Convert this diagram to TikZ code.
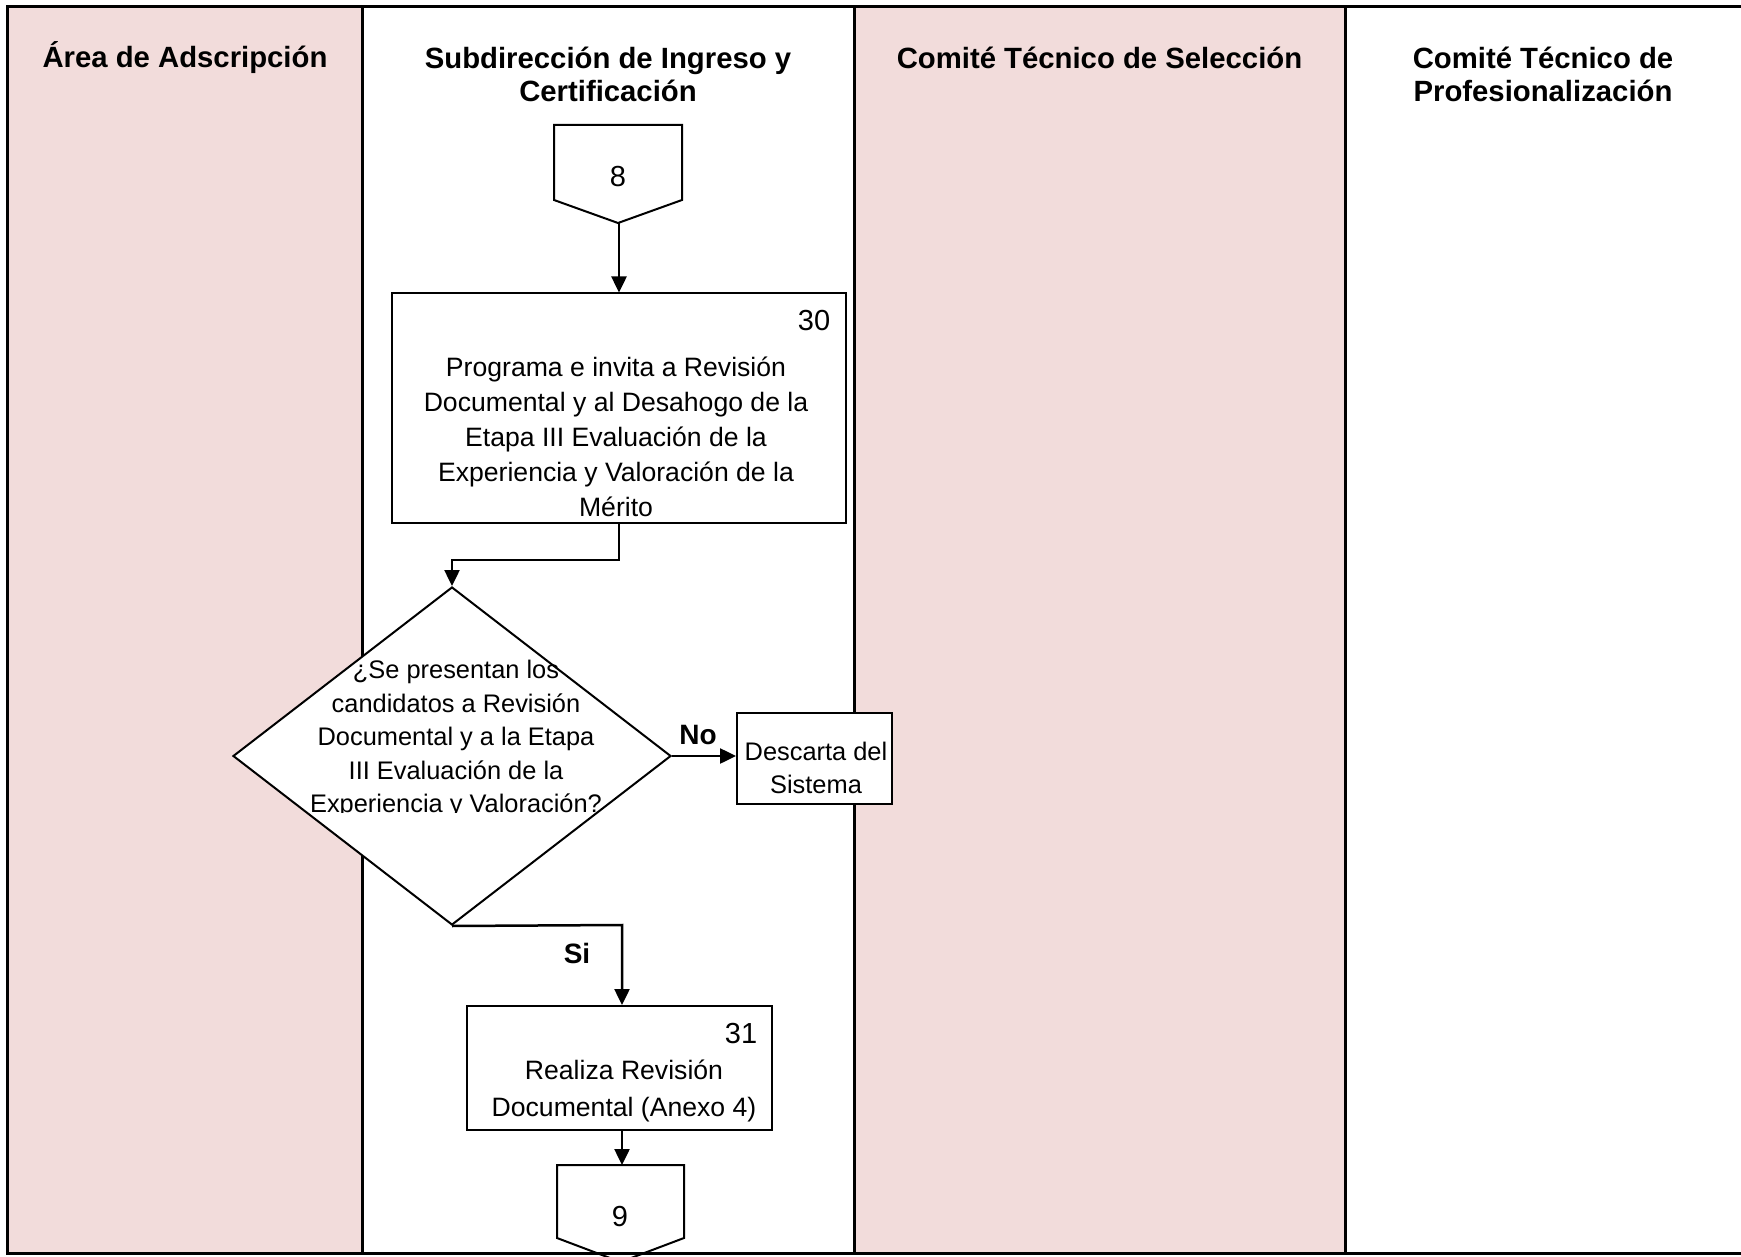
\documentclass[tikz,border=0pt]{standalone}
\usepackage{fontspec}
\setmainfont{Liberation Sans}
\usetikzlibrary{arrows.meta,shapes.geometric}
\definecolor{lanepink}{RGB}{242,220,219}
\tikzset{
  frame/.style={line width=3pt,black},
  lanehead/.style={font=\bfseries\fontsize{29.3}{33}\selectfont,align=center,anchor=center,inner sep=0pt},
  procbox/.style={draw,line width=2pt,fill=white,rectangle,inner sep=0pt},
  bodytext/.style={font=\fontsize{26.6}{35}\selectfont,align=center,inner sep=0pt},
  smalltext/.style={font=\fontsize{25.4}{32.5}\selectfont,align=center,inner sep=0pt},
  numtext/.style={font=\fontsize{29}{32}\selectfont,inner sep=0pt},
  offpage/.style={draw,line width=2pt,fill=white,line join=miter},
  flow/.style={line width=2.5pt,-{Triangle[length=16pt,width=15pt]}},
  branch/.style={font=\bfseries\fontsize{28}{30}\selectfont,inner sep=0pt}
}
\begin{document}
\begin{tikzpicture}[x=1pt,y=-1pt]
\useasboundingbox (0,0) rectangle (1741,1257);
\begin{scope}
\clip (0,0) rectangle (1741,1257);

% swimlane backgrounds
\fill[white] (0,0) rectangle (1741,1257);
\fill[lanepink] (7,7) rectangle (362,1253);
\fill[lanepink] (854,7) rectangle (1345,1253);

% swimlane dividers
\draw[frame] (362,7) -- (362,1253);
\draw[frame] (854,7) -- (854,1253);
\draw[frame] (1345,7) -- (1345,1253);

% lane headers
\node[lanehead] (h1) at (185,58) {Área de Adscripción};
\node[lanehead] (h2) at (608,74.5) {Subdirección de Ingreso y\\Certificación};
\node[lanehead] (h3) at (1099.5,58) {Comité Técnico de Selección};
\node[lanehead] (h4) at (1543,74.5) {Comité Técnico de\\Profesionalización};

% incoming off-page connector 8
\draw[offpage] (554,125) -- (682,125) -- (682,200) -- (618,223) -- (554,200) -- cycle;
\coordinate (c8tip) at (619,223);
\node[numtext] (c8) at (618,177) {8};

% activity 30
\node[procbox,minimum width=454pt,minimum height=229pt] (b30) at (619,408) {};
\node[numtext] (n30) at (814,321) {30};
\node[bodytext] (t30) at (616,436.5) {Programa e invita a Revisión\\Documental y al Desahogo de la\\Etapa III Evaluación de la\\Experiencia y Valoración de la\\Mérito};

% decision
\node[draw,line width=2pt,fill=white,diamond,inner sep=0pt,minimum width=438pt,minimum height=338pt] (dec) at (452,756) {};
\begin{scope}
\clip (250,640) rectangle (660,812);
\node[smalltext,font=\fontsize{25.4}{33.5}\selectfont] (tdec) at (456,739) {¿Se presentan los\\candidatos a Revisión\\Documental y a la Etapa\\III Evaluación de la\\Experiencia y Valoración?};
\end{scope}

% discard box
\node[procbox,minimum width=155pt,minimum height=91pt] (disc) at (814.5,758.5) {};
\node[smalltext] (tdisc) at (816,768) {Descarta del\\Sistema};

% activity 31
\node[procbox,minimum width=305pt,minimum height=124pt] (b31) at (619.5,1068) {};
\node[numtext] (n31) at (741,1034) {31};
\node[bodytext,font=\fontsize{26.6}{36.5}\selectfont] (t31) at (624,1091) {Realiza Revisión\\Documental (Anexo 4)};

% outgoing off-page connector 9
\draw[offpage] (557,1165) -- (684,1165) -- (684,1238) -- (620.5,1262) -- (557,1238) -- cycle;
\coordinate (c9top) at (622,1165);
\node[numtext] (c9) at (620,1217) {9};

% connectors
\draw[flow] (c8tip) -- (c8tip |- b30.north);
\coordinate (e30a) at (619,560);
\coordinate (e30b) at (452,560);
\draw[flow] (b30.south) -- (e30a) -- (e30b) -- (dec.north);
\draw[flow] (dec.east) -- (disc.west |- dec.east);
\node[branch] (lno) at (698,735) {No};
\coordinate (sipt) at (622,925);
\draw[flow] (dec.south) -- (sipt) -- (sipt |- b31.north);
\node[branch] (lsi) at (577,953) {Si};
\draw[flow] (c9top |- b31.south) -- (c9top);

% outer frame
\draw[frame] (1745,7) -- (7,7) -- (7,1253) -- (1745,1253);
\end{scope}
\end{tikzpicture}
\end{document}
